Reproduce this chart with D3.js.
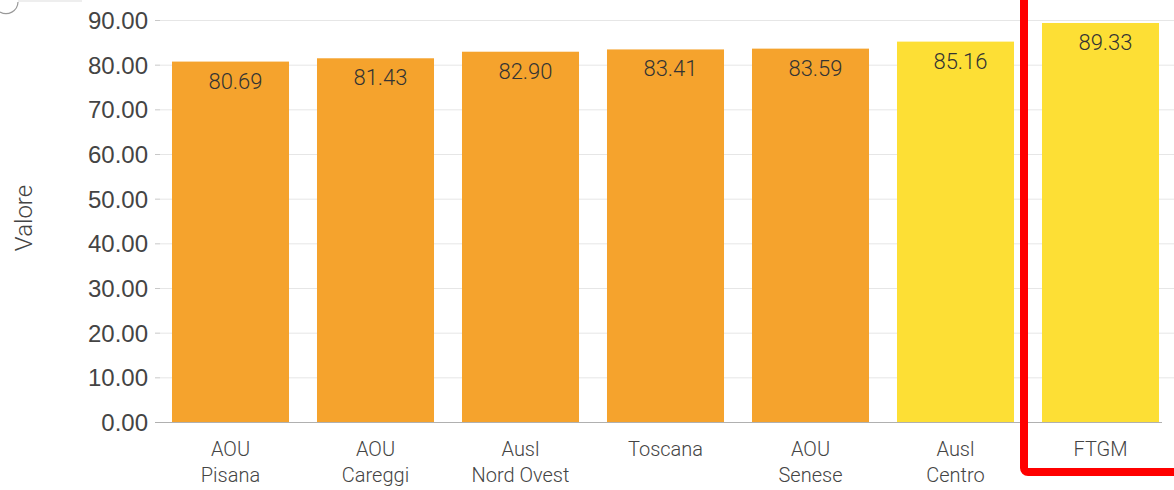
<!DOCTYPE html>
<html><head><meta charset="utf-8">
<script src="https://cdn.jsdelivr.net/npm/d3@7"></script>
<style>
html,body{margin:0;padding:0;background:#fff;}
svg{display:block;font-family:Roboto,"Liberation Sans",sans-serif;}
</style></head>
<body>
<svg id="chart" width="1174" height="490"></svg>
<script>
const categories = ["AOU\nPisana","AOU\nCareggi","Ausl\nNord Ovest","Toscana","AOU\nSenese","Ausl\nCentro","FTGM"];
const values = [80.69, 81.43, 82.90, 83.41, 83.59, 85.16, 89.33];
const groups = ["low","low","low","low","low","high","high"];
const yTicks = [0,10,20,30,40,50,60,70,80,90];
const yTitle = "Valore";

const svg = d3.select("#chart");
const W = 1174, H = 490;
const y = d3.scaleLinear().domain([0, 90]).range([422, 20]);
const x = d3.scaleBand().domain(categories).range([158, 1173]).paddingInner(0.193).paddingOuter(0.0965);
const color = d3.scaleOrdinal().domain(["low","high"]).range(["#F5A32D","#FDDF35"]);

const gAxis = svg.append("g").attr("transform","translate(160,0)");
const yAxis = d3.axisLeft(y).tickValues(yTicks).tickFormat(d3.format(".2f")).tickSize(5).tickPadding(8);
gAxis.call(yAxis);
gAxis.select(".domain").remove();
gAxis.selectAll(".tick line").attr("stroke","#c8c8c8");
gAxis.selectAll(".tick text").attr("fill","#444").style("font-size","24px").style("font-weight","300").attr("dy","0.36em").attr("x",-12);
svg.append("g").selectAll("line").data(yTicks.filter(d=>d>0)).join("line")
  .attr("x1",160).attr("x2",W).attr("y1",d=>y(d)+0.5).attr("y2",d=>y(d)+0.5)
  .attr("stroke","#e6e6e6").attr("stroke-width",1);

svg.append("g").selectAll("rect").data(values).join("rect")
  .attr("x",(d,i)=>x(categories[i])).attr("width",x.bandwidth())
  .attr("y",d=>y(d)).attr("height",d=>y(0)-y(d))
  .attr("fill",(d,i)=>color(groups[i]));

svg.append("line").attr("x1",155).attr("x2",1162).attr("y1",y(0)+0.5).attr("y2",y(0)+0.5)
  .attr("stroke","#b0b0b0").attr("stroke-width",1);

svg.append("g").selectAll("text").data(values).join("text")
  .attr("x",(d,i)=>x(categories[i])+x.bandwidth()/2+5)
  .attr("y",d=>y(d)+27)
  .attr("text-anchor","middle").attr("fill","#333")
  .style("font-size","22px").style("font-weight","300")
  .text(d=>d3.format(".2f")(d));

const cat = svg.append("g").selectAll("text").data(categories).join("text")
  .attr("x",d=>x(d)+x.bandwidth()/2).attr("y",456)
  .attr("text-anchor","middle").attr("fill","#444").style("font-size","20px").style("font-weight","300");
cat.each(function(d){
  const t = d3.select(this);
  d.split("\n").forEach((line,i)=>{
    t.append("tspan").attr("x",x(d)+x.bandwidth()/2).attr("dy",i===0?0:26).text(line);
  });
});

svg.append("text").attr("transform","translate(32,218) rotate(-90)")
  .attr("text-anchor","middle").attr("fill","#444").style("font-size","24px").style("font-weight","300").text(yTitle);

svg.append("rect").attr("x",1024).attr("y",-20).attr("width",220).attr("height",492)
  .attr("rx",4).attr("fill","none").attr("stroke","#FF0000").attr("stroke-width",8);

svg.append("path").attr("d","M0,12 A12,12 0 0 0 18,2").attr("fill","none").attr("stroke","#999").attr("stroke-width",1.2);
svg.append("line").attr("x1",18).attr("x2",82).attr("y1",1).attr("y2",1).attr("stroke","#ddd");
</script>
</body></html>
